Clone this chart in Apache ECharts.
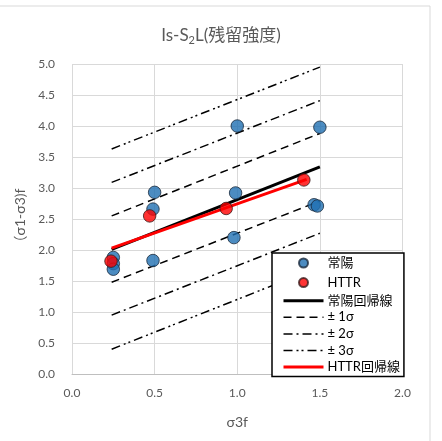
<!DOCTYPE html>
<html><head><meta charset="utf-8">
<script src="https://cdn.jsdelivr.net/npm/echarts@6/dist/echarts.min.js"></script>
<style>html,body{margin:0;padding:0;background:#fff}#c{width:442px;height:441px}</style>
</head><body><div id="c"></div>
<script>
// Data
const joyoX = [0.25, 0.25, 0.25, 0.49, 0.5, 0.49, 0.99, 1.0, 0.98, 1.50, 1.465, 1.485];
const joyoY = [1.88, 1.78, 1.69, 2.66, 2.93, 1.83, 2.92, 4.00, 2.20, 3.98, 2.73, 2.71];
const httrX = [0.236, 0.47, 0.933, 1.403];
const httrY = [1.82, 2.55, 2.67, 3.13];
const lineX = [0.24, 1.5];
const joyoRegY = [2.01, 3.34];
const sig1Up = [2.55, 3.88];
const sig1Lo = [1.48, 2.79];
const sig2Up = [3.09, 4.41];
const sig2Lo = [0.95, 2.27];
const sig3Up = [3.63, 4.95];
const sig3Lo = [0.40, 1.73];
const httrRegX = [0.24, 1.42];
const httrRegY = [2.03, 3.14];
const xTicks = [0, 0.5, 1.0, 1.5, 2.0];
const yTicks = [0, 0.5, 1, 1.5, 2, 2.5, 3, 3.5, 4, 4.5, 5];

const pts = (xs, ys) => xs.map((x, i) => [x, ys[i]]);
const FONT = "Lato, 'Noto Sans CJK JP', sans-serif";
const dotIcon = 'path://M0,0 M14,14 M7,2.5 A4.5,4.5 0 1,1 7,11.5 A4.5,4.5 0 1,1 7,2.5 Z';
const noSym = { opacity: 0 };

function lineSeries(name, xs, ys, color, width, type, z) {
  return {
    name, type: 'line', data: pts(xs, ys), symbol: 'none', z: z || 2,
    lineStyle: { color, width, type }, itemStyle: { color },
    emphasis: { disabled: true }, animation: false
  };
}

const chart = echarts.init(document.getElementById('c'), null, { renderer: 'canvas' });
chart.setOption({
  animation: false,
  backgroundColor: '#fff',
  textStyle: { fontFamily: FONT },
  graphic: [{
    type: 'rect', shape: { x: -5, y: 6, width: 435, height: 460 },
    style: { fill: 'none', stroke: '#d9d9d9', lineWidth: 1 }, silent: true, z: -1
  }],
  title: {
    text: '{a|Is-S}{s|2}{a|L(残留強度)}',
    left: 'center', top: 21,
    textStyle: {
      fontWeight: 'normal',
      rich: {
        a: { fontSize: 17, color: '#595959', fontFamily: FONT, fontWeight: 'normal' },
        s: { fontSize: 11, color: '#595959', fontFamily: FONT, fontWeight: 'normal', padding: [9, 0, 0, 0] }
      }
    }
  },
  grid: { left: 72, right: 39.5, top: 64, bottom: 67 },
  xAxis: {
    type: 'value', min: 0, max: 2, interval: 0.5,
    name: 'σ3f', nameLocation: 'middle', nameGap: 41,
    nameTextStyle: { fontSize: 14, color: '#595959', fontFamily: FONT },
    axisLine: { show: true, lineStyle: { color: '#bfbfbf' } },
    axisTick: { show: false },
    axisLabel: { margin: 13, fontSize: 12, color: '#595959', fontFamily: FONT,
      formatter: v => xTicks.includes(v) ? v.toFixed(1) : '' },
    splitLine: { show: true, lineStyle: { color: '#d9d9d9' } }
  },
  yAxis: {
    type: 'value', min: 0, max: 5, interval: 0.5,
    name: '（σ1-σ3)f', nameLocation: 'middle', nameGap: 29, nameRotate: 90,
    nameTextStyle: { fontSize: 14, color: '#595959', fontFamily: FONT },
    axisLine: { show: false }, axisTick: { show: false },
    axisLabel: { margin: 17, fontSize: 12, color: '#595959', fontFamily: FONT,
      formatter: v => yTicks.includes(v) ? v.toFixed(1) : '' },
    splitLine: { show: true, lineStyle: { color: '#d9d9d9' } }
  },
  legend: {
    orient: 'vertical', left: 272, top: 253,
    width: 133,
    padding: [2, 4, 3, 10],
    itemWidth: 40, itemHeight: 14, itemGap: 3.6,
    backgroundColor: '#fff', borderColor: '#000', borderWidth: 1.5,
    textStyle: { fontSize: 13, color: '#000', fontFamily: FONT, padding: [0, 0, 0, -1] },
    data: [
      { name: '常陽', icon: dotIcon },
      { name: 'HTTR', icon: dotIcon },
      { name: '常陽回帰線', itemStyle: noSym, lineStyle: { width: 3 } },
      { name: '± 1σ', itemStyle: noSym, lineStyle: { width: 1.5 } },
      { name: '± 2σ', itemStyle: noSym, lineStyle: { width: 1.5 } },
      { name: '± 3σ', itemStyle: noSym, lineStyle: { width: 1.5 } },
      { name: 'HTTR回帰線', itemStyle: noSym, lineStyle: { width: 3 } }
    ]
  },
  series: [
    {
      name: '常陽', type: 'scatter', data: pts(joyoX, joyoY), symbolSize: 12.5, z: 5,
      itemStyle: { color: '#1f6fb2', borderColor: '#1b2a3c', borderWidth: 1 }
    },
    {
      name: 'HTTR', type: 'scatter', data: pts(httrX, httrY), symbolSize: 12.5, z: 6,
      itemStyle: { color: '#ff0000', borderColor: '#3a1a1a', borderWidth: 1 }
    },
    lineSeries('常陽回帰線', lineX, joyoRegY, '#000', 3, 'solid', 3),
    lineSeries('± 1σ', lineX, sig1Up, '#000', 1.5, [8, 5]),
    lineSeries('± 1σ', lineX, sig1Lo, '#000', 1.5, [8, 5]),
    lineSeries('± 2σ', lineX, sig2Up, '#000', 1.5, [9, 4, 2, 4]),
    lineSeries('± 2σ', lineX, sig2Lo, '#000', 1.5, [9, 4, 2, 4]),
    lineSeries('± 3σ', lineX, sig3Up, '#000', 1.5, [9, 4, 2, 3, 2, 4]),
    lineSeries('± 3σ', lineX, sig3Lo, '#000', 1.5, [9, 4, 2, 3, 2, 4]),
    lineSeries('HTTR回帰線', httrRegX, httrRegY, '#ff0000', 3, 'solid', 4)
  ]
});
</script>
</body></html>
